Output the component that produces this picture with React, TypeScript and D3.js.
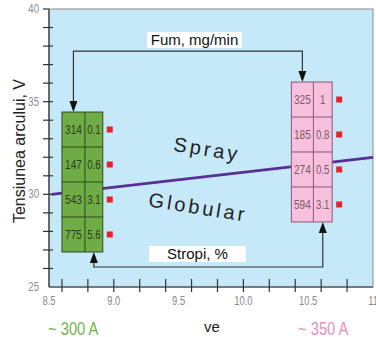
import * as d3 from 'd3'
import type { ReactNode } from 'react'

const W = 376
const H = 337

// axis ticks
const xMajor = [8.5, 9.0, 9.5, 10.0, 10.5, 11]
const xMajorLabels = ['8.5', '9.0', '9.5', '10.0', '10.5', '11']
const yMajor = [25, 30, 35, 40]

// table values (Fum mg/min, Stropi %)
const fum300 = ['314', '147', '543', '775']
const stropi300 = ['0.1', '0.6', '3.1', '5.6']
const fum350 = ['325', '185', '274', '594']
const stropi350 = ['1', '0.8', '0.5', '3.1']

// spray / globular boundary
const boundary = [
  { x: 8.52, y: 30.0 },
  { x: 11.0, y: 32.0 },
]

// annotation anchors (data units)
const box300 = { x0: 8.6, xm: 8.777, x1: 8.915, yTop: 34.44, yBot: 26.89 }
const box350 = { x0: 10.37, xm: 10.54, x1: 10.685, yTop: 36.06, yBot: 28.51 }
const fumLineY = 37.73
const stropiLineY = 26.08

const SANS = '"Liberation Sans", Arial, sans-serif'

const x = d3.scaleLinear().domain([8.5, 11]).range([49, 373])
const y = d3.scaleLinear().domain([25, 40]).range([287, 9])

// no condensed font installed: squeeze Arial horizontally
function NText({ x: px, y: py, size, fill, sx = 0.8, anchor = 'middle', children }: {
  x: number; y: number; size: number; fill: string; sx?: number; anchor?: 'start' | 'middle' | 'end'; children: ReactNode
}) {
  return (
    <text transform={`translate(${px},${py}) scale(${sx},1)`} textAnchor={anchor} fontFamily={SANS} fontSize={size} fill={fill}>
      {children}
    </text>
  )
}

function Table({ box, fum, stropi, fill, stroke, color }: {
  box: typeof box300; fum: string[]; stropi: string[]; fill: string; stroke: string; color: string
}) {
  const top = y(box.yTop), bot = y(box.yBot)
  const rows = d3.scaleBand<number>().domain(d3.range(fum.length)).range([top, bot])
  const xl = x(box.x0), xm = x(box.xm), xr = x(box.x1)
  return (
    <g>
      <rect x={xl} y={top} width={xr - xl} height={bot - top} fill={fill} stroke={stroke} strokeWidth={1} />
      <line x1={xm} x2={xm} y1={top} y2={bot} stroke={stroke} />
      {fum.map((f, i) => {
        const r0 = rows(i)!
        const cy = r0 + rows.bandwidth() / 2
        return (
          <g key={i}>
            {i > 0 && <line x1={xl} x2={xr} y1={r0} y2={r0} stroke={stroke} />}
            <NText x={(xl + xm) / 2} y={cy + 4.5} size={12} sx={0.84} fill={color}>{f}</NText>
            <NText x={(xm + xr) / 2} y={cy + 4.5} size={12} sx={0.8} fill={color}>{stropi[i]}</NText>
            <rect x={xr + 4} y={cy - 3} width={6} height={6} fill="#e8202a" />
          </g>
        )
      })}
    </g>
  )
}

export default function App() {
  const line = d3.line<{ x: number; y: number }>().x(d => x(d.x)).y(d => y(d.y))
  const xMinor = x.ticks(10).filter(v => v > 8.5 && v < 11)
  const yMinor = y.ticks(15).filter(v => v > 25 && v < 40)

  const fumL = x((box300.x0 + box300.xm) / 2)
  const fumR = x((box350.x0 + box350.xm) / 2)
  const strL = x((box300.xm + box300.x1) / 2)
  const strR = x((box350.xm + box350.x1) / 2)
  const fy = y(fumLineY)
  const sy = y(stropiLineY)

  return (
    <svg width={W} height={H} style={{ position: 'absolute', left: 0, top: 0, background: '#fff' }}>
      {/* plot area */}
      <rect x={x(8.5)} y={y(40)} width={x(11) - x(8.5)} height={y(25) - y(40)} fill="#c6e9f9" stroke="#8a8a8a" strokeWidth={1} />

      {/* boundary */}
      <path d={line(boundary)!} fill="none" stroke="#5b2d98" strokeWidth={2.8} />

      <text transform="translate(206,156) rotate(9)" textAnchor="middle" fontFamily={SANS} fontSize={20} letterSpacing={3} fill="#222">Spray</text>
      <text transform="translate(197,214) rotate(9)" textAnchor="middle" fontFamily={SANS} fontSize={20} letterSpacing={3} fill="#222">Globular</text>

      {/* Fum connector */}
      <path d={`M${fumL},${y(box300.yTop) - 10}V${fy}H${fumR}V${y(box350.yTop) - 10}`} fill="none" stroke="#333" strokeWidth={1.2} />
      <path d={`M${fumL},${y(box300.yTop)}l-4,-11h8z`} fill="#111" />
      <path d={`M${fumR},${y(box350.yTop)}l-4,-11h8z`} fill="#111" />
      <rect x={147} y={fy - 19} width={95} height={16} fill="#fff" />
      <text x={194.5} y={fy - 6} textAnchor="middle" fontFamily={SANS} fontSize={15} fill="#111">Fum, mg/min</text>

      {/* Stropi connector */}
      <path d={`M${strL},${y(box300.yBot) + 10}V${sy}H${strR}V${y(box350.yBot) + 10}`} fill="none" stroke="#333" strokeWidth={1.2} />
      <path d={`M${strL},${y(box300.yBot)}l-4,11h8z`} fill="#111" />
      <path d={`M${strR},${y(box350.yBot)}l-4,11h8z`} fill="#111" />
      <rect x={149} y={sy - 21} width={97} height={16} fill="#fff" />
      <text x={197.5} y={sy - 8} textAnchor="middle" fontFamily={SANS} fontSize={15} fill="#111">Stropi, %</text>

      <Table box={box300} fum={fum300} stropi={stropi300} fill="#6fac46" stroke="#2e4a1e" color="#2b3b1b" />
      <Table box={box350} fum={fum350} stropi={stropi350} fill="#f7c0dc" stroke="#8a5a70" color="#7a5a6a" />

      {/* axes */}
      <line x1={x(8.5)} x2={x(11)} y1={y(25)} y2={y(25)} stroke="#333" strokeWidth={1.2} />
      <line x1={x(8.5)} x2={x(8.5)} y1={y(25)} y2={y(40)} stroke="#333" strokeWidth={1.2} />
      {xMinor.map(v => (
        <line key={v} x1={x(v)} x2={x(v)} y1={y(25) - 8} y2={y(25) + 5} stroke="#333" strokeWidth={1.2} />
      ))}
      {yMinor.map(v => (
        <line key={v} x1={x(8.5) - 6} x2={x(8.5) + 4} y1={y(v)} y2={y(v)} stroke="#333" strokeWidth={1.2} />
      ))}
      <line x1={x(8.5) - 6} x2={x(8.5)} y1={y(40)} y2={y(40)} stroke="#333" strokeWidth={1.2} />
      {xMajor.map((v, i) => (
        <NText key={v} x={x(v)} y={305} size={12} sx={0.78} fill="#888">{xMajorLabels[i]}</NText>
      ))}
      {yMajor.map(v => (
        <NText key={v} x={39} y={y(v) + 4} size={12} sx={0.8} anchor="end" fill="#8a8a9a">{v}</NText>
      ))}

      <text transform="translate(25,151) rotate(-90)" textAnchor="middle" fontFamily={SANS} fontSize={16} fill="#222">Tensiunea arcului, V</text>
      <text x={212} y={332} textAnchor="middle" fontFamily={SANS} fontSize={15} fill="#222">ve</text>
      <NText x={48} y={335} size={18} sx={0.82} anchor="start" fill="#6fb24a">~ 300 A</NText>
      <NText x={298} y={335} size={18} sx={0.82} anchor="start" fill="#f08cbc">~ 350 A</NText>
    </svg>
  )
}
